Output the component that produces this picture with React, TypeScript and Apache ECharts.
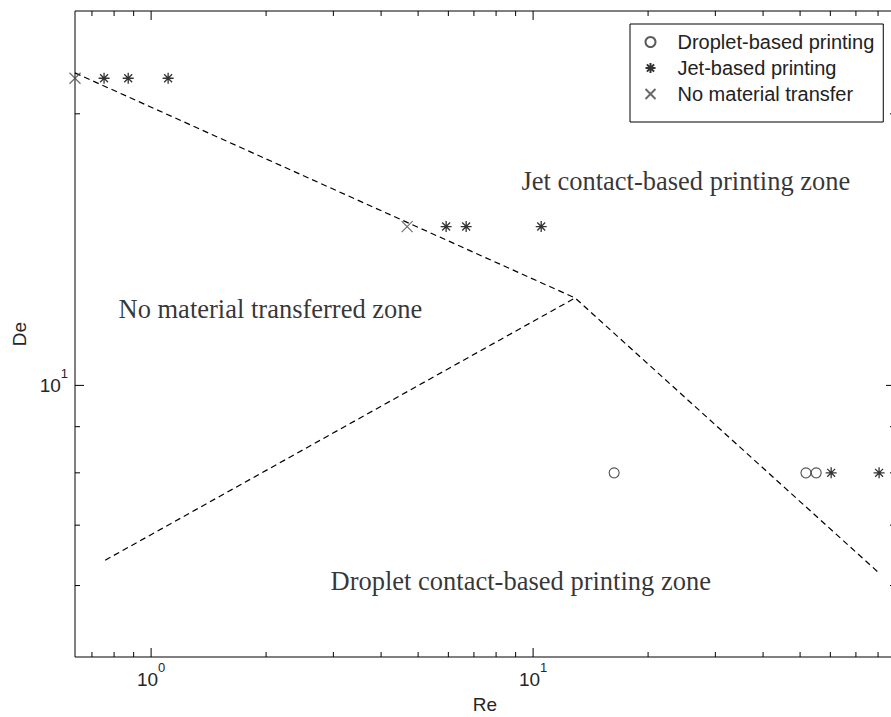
import React, { useEffect, useRef } from "react";
import * as echarts from "echarts";

// ---- axis ranges (log-log) ----
const X_MIN = 0.632;
const X_MAX = 88.6;
const Y_MIN = 5;
const Y_MAX = 26;

// ---- ticks ----
const xMajorTicks = [1, 10];
const xMinorTicks = [0.7, 0.8, 0.9, 2, 3, 4, 5, 6, 7, 8, 9, 20, 30, 40, 50, 60, 70, 80];
const yMajorTicks = [10];
const yMinorTicks = [6, 7, 8, 9, 20];

// ---- data ----
const dropletRe = [16.3, 51.8, 55.1];
const dropletDe = [8, 8, 8];
const jetRe = [0.753, 0.871, 1.108, 5.92, 6.68, 10.5, 60.3, 80.5];
const jetDe = [21.9, 21.9, 21.9, 15, 15, 15, 8, 8];
const noTransferRe = [0.632, 4.68];
const noTransferDe = [21.9, 15];

// zone boundaries
const upperRe = [0.632, 12.88, 81.0];
const upperDe = [22.2, 12.5, 6.18];
const lowerRe = [0.758, 12.88];
const lowerDe = [6.4, 12.5];

// zone annotations (data coordinates of text left / middle)
const zoneTexts = ["Jet contact-based printing zone", "No material transferred zone", "Droplet contact-based printing zone"];
const zoneRe = [9.29, 0.819, 2.94];
const zoneDe = [16.85, 12.15, 6.07];

const seriesNames = ["Droplet-based printing", "Jet-based printing", "No material transfer"];

const SANS = "Liberation Sans, Arial, sans-serif";
const SERIF = "Liberation Serif, Times New Roman, serif";

const STAR_PATH = "path://M0,-1L0,1M-1,0L1,0M-0.72,-0.72L0.72,0.72M-0.72,0.72L0.72,-0.72";
const CROSS_PATH = "path://M-1,-1L1,1M-1,1L1,-1";

const zip = (a: number[], b: number[]) => a.map((v, i) => [v, b[i]]);

function powLabel(v: number) {
  const e = Math.log10(v);
  const r = Math.round(e);
  if (Math.abs(e - r) > 1e-6) return "";
  return `{b|10}{s|${r}}`;
}

const labelRich = {
  b: { fontSize: 19, fontFamily: SANS, color: "#262626", lineHeight: 36 },
  s: { fontSize: 13, fontFamily: SANS, color: "#262626", lineHeight: 14, verticalAlign: "top" },
};

function tickSeries(values: number[], kind: "x" | "y", len: number) {
  const data = values.map((v) => (kind === "x" ? [v, Y_MIN] : [X_MIN, v]));
  return {
    type: "custom",
    silent: true,
    clip: false,
    z: 5,
    data,
    renderItem: (params: any, api: any) => {
      const style = { stroke: "#000", lineWidth: 1 };
      if (kind === "x") {
        const v = api.value(0);
        const pb = api.coord([v, Y_MIN]);
        const pt = api.coord([v, Y_MAX]);
        return {
          type: "group",
          children: [
            { type: "line", shape: { x1: pb[0], y1: pb[1], x2: pb[0], y2: pb[1] - len }, style },
            { type: "line", shape: { x1: pt[0], y1: pt[1], x2: pt[0], y2: pt[1] + len }, style },
          ],
        };
      }
      const v = api.value(1);
      const pl = api.coord([X_MIN, v]);
      const pr = api.coord([X_MAX, v]);
      return {
        type: "group",
        children: [
          { type: "line", shape: { x1: pl[0], y1: pl[1], x2: pl[0] + len, y2: pl[1] }, style },
          { type: "line", shape: { x1: pr[0], y1: pr[1], x2: pr[0] - len, y2: pr[1] }, style },
        ],
      };
    },
  };
}

export default function App() {
  const ref = useRef<HTMLDivElement>(null);

  useEffect(() => {
    if (!ref.current) return;
    const chart = echarts.init(ref.current, undefined, { renderer: "svg" });

    const option: any = {
      animation: false,
      backgroundColor: "#fff",
      grid: {
        left: 75,
        right: -4,
        top: 11,
        bottom: 60,
        containLabel: false,
        outerBoundsMode: "none",
        show: true,
        borderColor: "#000",
        borderWidth: 1,
        backgroundColor: "transparent",
      },
      xAxis: {
        type: "log",
        logBase: 10,
        min: X_MIN,
        max: X_MAX,
        name: "Re",
        nameLocation: "middle",
        nameGap: 38,
        nameTextStyle: { fontSize: 19, fontFamily: SANS, color: "#262626" },
        axisLine: { show: false },
        axisTick: { show: false },
        splitLine: { show: false },
        minorTick: { show: false },
        axisLabel: { formatter: powLabel, rich: labelRich, margin: 4 },
      },
      yAxis: {
        type: "log",
        logBase: 10,
        min: Y_MIN,
        max: Y_MAX,
        name: "De",
        nameLocation: "middle",
        nameGap: 44,
        nameTextStyle: { fontSize: 19, fontFamily: SANS, color: "#262626" },
        axisLine: { show: false },
        axisTick: { show: false },
        splitLine: { show: false },
        minorTick: { show: false },
        axisLabel: { formatter: powLabel, rich: labelRich, margin: 7 },
      },
      legend: {
        data: seriesNames,
        orient: "vertical",
        left: 630,
        top: 24,
        padding: [8, 9, 18, 13],
        itemGap: 6,
        itemWidth: 10,
        itemHeight: 10,
        borderColor: "#000",
        borderWidth: 1,
        borderRadius: 0,
        backgroundColor: "#fff",
        selectedMode: false,
        formatter: (name: string) => `{g|}{t|${name}}`,
        textStyle: {
          fontSize: 20,
          fontFamily: SANS,
          color: "#222",
          rich: {
            g: { width: 17 },
            t: { fontSize: 20, fontFamily: SANS, color: "#222" },
          },
        },
      },
      series: [
        tickSeries(xMinorTicks, "x", 5),
        tickSeries(xMajorTicks, "x", 9),
        tickSeries(yMinorTicks, "y", 5),
        tickSeries(yMajorTicks, "y", 9),
        {
          type: "line",
          name: "upper boundary",
          data: zip(upperRe, upperDe),
          symbol: "none",
          silent: true,
          lineStyle: { color: "#000", width: 1.2, type: [6, 4] },
          z: 2,
        },
        {
          type: "line",
          name: "lower boundary",
          data: zip(lowerRe, lowerDe),
          symbol: "none",
          silent: true,
          lineStyle: { color: "#000", width: 1.2, type: [6, 4] },
          z: 2,
        },
        {
          type: "scatter",
          name: seriesNames[0],
          data: zip(dropletRe, dropletDe),
          symbol: "circle",
          symbolSize: 10,
          itemStyle: { color: "none", borderColor: "#333", borderWidth: 1.2 },
          z: 3,
        },
        {
          type: "scatter",
          name: seriesNames[1],
          data: zip(jetRe, jetDe),
          symbol: STAR_PATH,
          symbolSize: 11,
          itemStyle: { color: "none", borderColor: "#000", borderWidth: 1.3 },
          z: 3,
        },
        {
          type: "scatter",
          name: seriesNames[2],
          data: zip(noTransferRe, noTransferDe),
          symbol: CROSS_PATH,
          symbolSize: 11,
          itemStyle: { color: "none", borderColor: "#444", borderWidth: 1.1 },
          z: 3,
        },
        {
          type: "scatter",
          name: "zones",
          silent: true,
          data: zoneTexts.map((t, i) => ({ name: t, value: [zoneRe[i], zoneDe[i]] })),
          symbolSize: 1,
          itemStyle: { color: "transparent" },
          label: {
            show: true,
            position: "right",
            distance: 0,
            formatter: (p: any) => p.name,
            fontFamily: SERIF,
            fontSize: 26.5,
            color: "#000",
          },
          z: 4,
        },
      ],
    };

    chart.setOption(option);
    return () => chart.dispose();
  }, []);

  return (
    <div
      ref={ref}
      style={{ position: "absolute", left: 0, top: 0, width: 891, height: 717, background: "#fff" }}
    />
  );
}
